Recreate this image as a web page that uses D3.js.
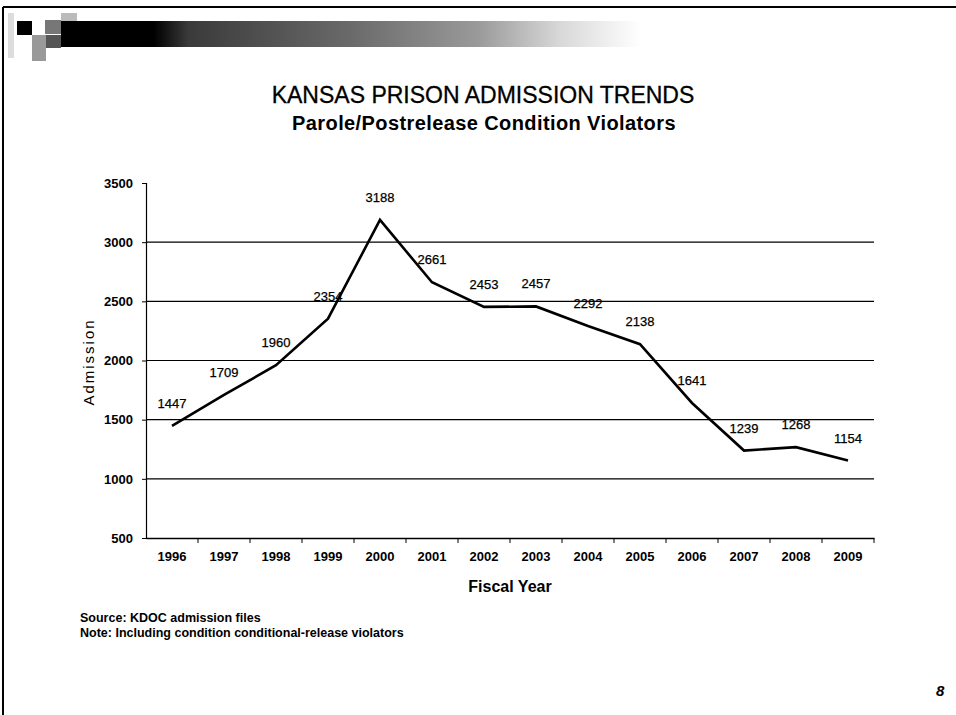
<!DOCTYPE html>
<html><head><meta charset="utf-8">
<script src="https://cdn.jsdelivr.net/npm/d3@7"></script>
<style>body{margin:0;background:#fff}svg{display:block}</style>
</head><body>
<svg id="c" width="956" height="715"></svg>
<script>
const years = ["1996","1997","1998","1999","2000","2001","2002","2003","2004","2005","2006","2007","2008","2009"];
const admissions = [1447,1709,1960,2354,3188,2661,2453,2457,2292,2138,1641,1239,1268,1154];
const yTicks = [500,1000,1500,2000,2500,3000,3500];
const gridValues = [1000,1500,2000,2500,3000];
const title = "KANSAS PRISON ADMISSION TRENDS";
const subtitle = "Parole/Postrelease Condition Violators";
const notes = ["Source: KDOC admission files","Note: Including condition conditional-release violators"];

const FONT = "'Liberation Sans', Arial, Helvetica, sans-serif";
const svg = d3.select("#c").style("font-family", FONT);

// frame
svg.append("line").attr("x1",3).attr("x2",956).attr("y1",7).attr("y2",7).attr("stroke","#000").attr("stroke-width",2);
svg.append("line").attr("x1",3).attr("x2",3).attr("y1",7).attr("y2",715).attr("stroke","#000").attr("stroke-width",2);

// header decoration
const defs = svg.append("defs");
const g1 = defs.append("linearGradient").attr("id","hb");
[[0,"#000"],[0.16,"#000"],[0.22,"#3a3a3a"],[0.5,"#6a6a6a"],[0.72,"#9a9a9a"],[0.86,"#d8d8d8"],[1,"#fff"]]
  .forEach(([o,c])=>g1.append("stop").attr("offset",o).attr("stop-color",c));
svg.append("rect").attr("x",61).attr("y",21).attr("width",580).attr("height",26).attr("fill","url(#hb)");
svg.append("rect").attr("x",17).attr("y",21).attr("width",15).attr("height",14).attr("fill","#000");
svg.append("rect").attr("x",45).attr("y",20).attr("width",16).attr("height",14).attr("fill","#777");
svg.append("rect").attr("x",61).attr("y",13).attr("width",16).attr("height",8).attr("fill","#bbb");
svg.append("rect").attr("x",46).attr("y",35).attr("width",15).attr("height",13).attr("fill","#555");
svg.append("rect").attr("x",32).attr("y",35).attr("width",14).attr("height",26).attr("fill","#999");
svg.append("rect").attr("x",8).attr("y",13).attr("width",6).attr("height",45).attr("fill","#ddd");

// titles
svg.append("text").attr("x",483).attr("y",103).attr("text-anchor","middle")
  .attr("font-size",23).attr("stroke","#000").attr("stroke-width",0.3).text(title);
svg.append("text").attr("x",484).attr("y",130).attr("text-anchor","middle")
  .attr("font-size",20).attr("font-weight","bold").attr("letter-spacing",0.4).text(subtitle);

// scales
const x = d3.scaleBand().domain(years).range([146,874]);
const y = d3.scaleLinear().domain([500,3500]).range([538,183]);
const cx = d => x(d) + x.bandwidth()/2;

// gridlines
svg.append("g").selectAll("line").data(gridValues).join("line")
  .attr("x1",146).attr("x2",874).attr("y1",d=>y(d)).attr("y2",d=>y(d))
  .attr("stroke","#000").attr("stroke-width",1.2);

// y axis
const yAxis = d3.axisLeft(y).tickValues(yTicks).tickSize(4).tickPadding(9).tickFormat(d3.format("d"));
const ga = svg.append("g").attr("transform","translate(146,0)").call(yAxis);
ga.select(".domain").attr("stroke-width",1.2);
ga.selectAll("text").attr("font-size",13).attr("font-weight","bold").attr("font-family",FONT).attr("fill","#000");

// x axis
const xAxis = d3.axisBottom(x).tickSize(0).tickPadding(14);
const gx = svg.append("g").attr("transform","translate(0,538)").call(xAxis);
gx.select(".domain").attr("stroke-width",1.5);
gx.selectAll("text").attr("font-size",13).attr("font-weight","bold").attr("font-family",FONT).attr("fill","#000");
// tick marks at band boundaries
svg.append("g").selectAll("line").data(years).join("line")
  .attr("x1",d=>x(d)+x.bandwidth()).attr("x2",d=>x(d)+x.bandwidth())
  .attr("y1",538).attr("y2",543).attr("stroke","#000");

// axis titles
svg.append("text").attr("transform","translate(94,362) rotate(-90)").attr("text-anchor","middle")
  .attr("font-size",15).attr("letter-spacing",2).text("Admission");
svg.append("text").attr("x",510).attr("y",592).attr("text-anchor","middle")
  .attr("font-size",16).attr("font-weight","bold").text("Fiscal Year");

// line
const line = d3.line().x((d,i)=>cx(years[i])).y(d=>y(d));
svg.append("path").datum(admissions).attr("d",line).attr("fill","none")
  .attr("stroke","#000").attr("stroke-width",2.6).attr("stroke-linejoin","miter");

// data labels
svg.append("g").selectAll("text").data(admissions).join("text")
  .attr("x",(d,i)=>cx(years[i])).attr("y",d=>y(d)-18)
  .attr("text-anchor","middle").attr("font-size",13)
  .attr("stroke","#000").attr("stroke-width",0.25).text(d=>d);

// notes
svg.append("g").selectAll("text").data(notes).join("text")
  .attr("x",80).attr("y",(d,i)=>622+i*14.5)
  .attr("font-size",12.5).attr("font-weight","bold").text(d=>d);

svg.append("text").attr("x",936).attr("y",696).attr("font-size",15)
  .attr("font-weight","bold").attr("font-style","italic").text("8");
</script>
</body></html>
